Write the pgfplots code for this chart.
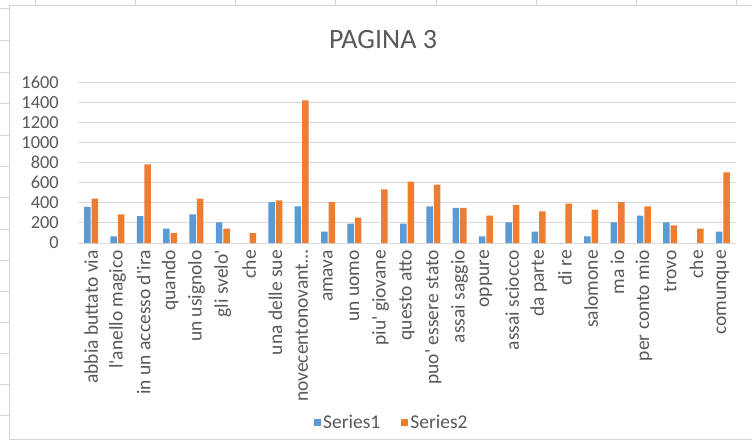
\documentclass[border=0pt]{standalone}
\usepackage{pgfplots}
\pgfplotsset{compat=1.18}
\usepackage{fontspec}
\setmainfont{Carlito}[Ligatures=TeXOff]
\definecolor{txt}{HTML}{595959}
\definecolor{gridc}{HTML}{D9D9D9}
\definecolor{sheet}{HTML}{D4D4D4}
\definecolor{sone}{HTML}{5B9BD5}
\definecolor{stwo}{HTML}{ED7D31}
\pgfplotstableread{
idx s1 s2
0 360 440
1 65 285
2 268 782
3 142 99
4 285 440
5 205 142
6 0 99
7 407 424
8 364 1418
9 113 407
10 192 252
11 0 533
12 192 609
13 364 580
14 348 348
15 66 272
16 205 378
17 113 315
18 0 391
19 66 331
20 205 407
21 272 364
22 205 175
23 0 142
24 113 702
}\datatable
\begin{document}
\begin{tikzpicture}
\useasboundingbox (0pt,0pt) rectangle (752pt,442pt);
\fill[white] (0pt,0pt) rectangle (752pt,442pt);
% spreadsheet cell lines
\foreach \xx in {35,135,235,335,436,536,636,736} {\draw[sheet,line width=0.8pt] (\xx pt,442pt) -- (\xx pt,437pt);}
\foreach \yy in {434,402,370,339,307,276,245,213,182,151,120,89,58,27} {\draw[sheet,line width=0.8pt] (0pt,\yy pt) -- (9pt,\yy pt);}
\draw[sheet,line width=0.8pt] (760pt,437pt) -- (9pt,437pt) -- (9pt,3pt) -- (760pt,3pt);
\node[anchor=base,text=txt,font=\fontsize{28}{30}\selectfont] at (383pt,393pt) {PAGINA 3};
\coordinate (A) at (78pt,199pt);
\begin{axis}[
  at={(A)}, anchor=south west,
  scale only axis, width=658pt, height=161pt,
  ybar=1pt, bar width=6.5pt,
  xmin=-0.5, xmax=24.5, ymin=0, ymax=1600,
  ytick={0,200,...,1600},
  xtick=data,
  xticklabels={abbia buttato via,l'anello magico,in un accesso d'ira,quando,un usignolo,gli svelo',che,una delle sue,novecentonovant…,amava,un uomo,piu' giovane,questo atto,puo' essere stato,assai saggio,oppure,assai sciocco,da parte,di re,salomone,ma io,per conto mio,trovo,che,comunque},
  major tick length=0pt,
  axis line style={draw=none},
  ymajorgrids, grid style={gridc,line width=1pt},
  /pgf/number format/assume math mode=true,
  /pgf/number format/1000 sep={},
  yticklabel style={font=\fontsize{18.4}{20}\selectfont, text=txt, anchor=east, inner sep=0pt, xshift=-19pt},
  xticklabel style={font=\fontsize{19.5}{20}\selectfont, text=txt, rotate=90, anchor=east, inner sep=0pt, xshift=-7pt},
  legend style={at={(0.477,-1.118)}, anchor=center, draw=none, fill=none,
    legend columns=2, font=\fontsize{19.5}{20}\selectfont, text=txt,
    /tikz/every even column/.append style={column sep=19pt}},
  legend image code/.code={\fill[#1] (0pt,-3.5pt) rectangle (7pt,3.5pt);},
]
\addplot[fill=sone, draw=none] table[x=idx,y=s1] {\datatable};
\addplot[fill=stwo, draw=none] table[x=idx,y=s2] {\datatable};
\legend{Series1,Series2}
\end{axis}
\end{tikzpicture}
\end{document}
